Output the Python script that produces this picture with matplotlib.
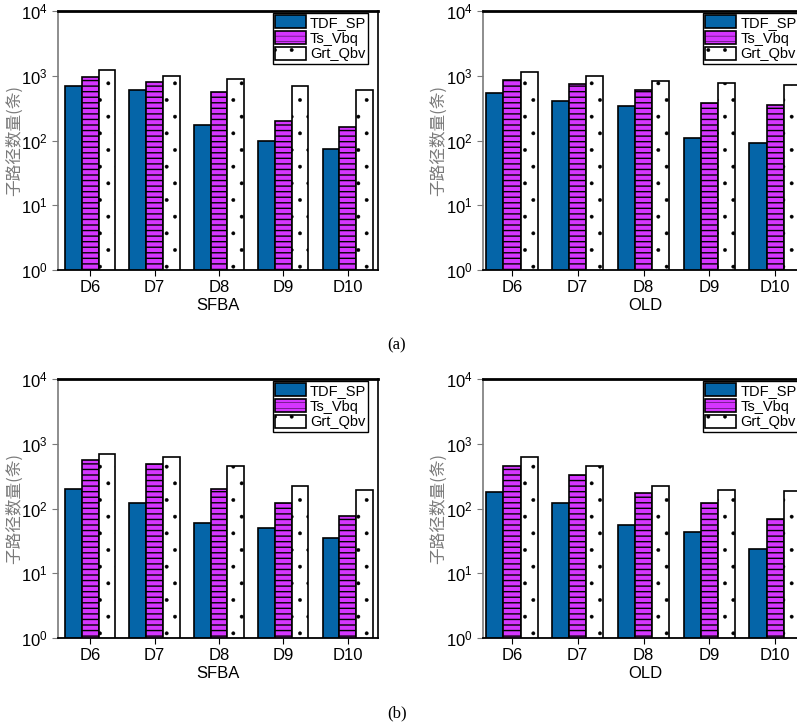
import matplotlib
matplotlib.use('Agg')
import matplotlib.pyplot as plt
import numpy as np

plt.rcParams['font.family'] = ['Liberation Sans', 'DejaVu Sans']

# Datos
categorias = ['D6', 'D7', 'D8', 'D9', 'D10']
series = ['TDF_SP', 'Ts_Vbq', 'Grt_Qbv']

a_sfba_tdf = [700, 600, 176, 97, 75]
a_sfba_ts = [960, 810, 555, 200, 162]
a_sfba_grt = [1210, 1000, 900, 700, 600]

a_old_tdf = [548, 412, 341, 111, 90]
a_old_ts = [850, 755, 603, 384, 349]
a_old_grt = [1156, 1000, 820, 763, 728]

b_sfba_tdf = [203, 120, 60, 50, 35]
b_sfba_ts = [564, 483, 203, 120, 77]
b_sfba_grt = [698, 620, 460, 220, 196]

b_old_tdf = [180, 120, 55, 44, 24]
b_old_ts = [450, 334, 176, 120, 70]
b_old_grt = [620, 450, 220, 191, 184]

W, H = 797, 726
fig = plt.figure(figsize=(W / 100, H / 100), dpi=100)

colores = ['#0565a8', '#d535ff', 'white']
hatches = [None, '---', '.']
hatch_lw = [1.0, 1.0, 0.3]
gris = '#7a7a7a'


def panel(x0, y_top, ancho, datos, xlabel, xlim, leg_x):
    ax = fig.add_axes([x0 / W, (H - y_top - 259) / H, ancho / W, 259 / H])
    x = np.arange(len(categorias))
    w = 0.26
    for k, (vals, nombre) in enumerate(zip(datos, series)):
        with plt.rc_context({'hatch.linewidth': hatch_lw[k]}):
            ax.bar(x + (k - 1) * w, vals, width=w, color=colores[k], hatch=hatches[k],
                   edgecolor='black', linewidth=1.2, label=nombre, zorder=2)
    ax.set_yscale('log')
    ax.set_ylim(1, 1e4)
    ax.set_yticks([1, 10, 100, 1000, 10000])
    ax.minorticks_off()
    ax.set_xlim(*xlim)
    ax.set_xticks(x)
    ax.set_xticklabels(categorias)
    ax.tick_params(axis='both', labelsize=12, direction='out', length=4)
    ax.tick_params(axis='y', color=gris)
    ax.spines['left'].set_color(gris)
    ax.spines['left'].set_linewidth(1.2)
    ax.spines['top'].set_linewidth(2)
    ax.spines['bottom'].set_linewidth(1.3)
    ax.spines['right'].set_linewidth(1.2)
    ax.set_xlabel(xlabel, fontsize=12, labelpad=2)
    ax.set_ylabel('子路径数量(条)', fontsize=12, color=gris,
                  family=['Noto Sans CJK SC', 'DejaVu Sans'])
    ax.yaxis.set_label_coords(-0.11, 0.5)
    with plt.rc_context({'hatch.linewidth': 0.3}):
        leg = ax.legend(loc='upper right', bbox_to_anchor=(leg_x, 0.993), fontsize=10.5,
                        fancybox=False, frameon=True, edgecolor='black', framealpha=1,
                        handlelength=2.1, handleheight=1.0, handletextpad=0.3,
                        labelspacing=0.1, borderpad=0.15, borderaxespad=0)
    leg.get_frame().set_linewidth(1.0)
    return ax


panel(58, 11, 320, [a_sfba_tdf, a_sfba_ts, a_sfba_grt], 'SFBA', (-0.5, 4.47), 0.97)
panel(483, 11, 325, [a_old_tdf, a_old_ts, a_old_grt], 'OLD', (-0.44, 4.5), 0.972)
panel(58, 379, 320, [b_sfba_tdf, b_sfba_ts, b_sfba_grt], 'SFBA', (-0.5, 4.47), 0.97)
panel(483, 379, 325, [b_old_tdf, b_old_ts, b_old_grt], 'OLD', (-0.44, 4.5), 0.972)

fig.text(397 / W, 1 - 345 / H, '(a)', ha='center', va='center', fontsize=12,
         family='Liberation Serif')
fig.text(397 / W, 1 - 713 / H, '(b)', ha='center', va='center', fontsize=12,
         family='Liberation Serif')

plt.savefig('out.png', dpi=100)
